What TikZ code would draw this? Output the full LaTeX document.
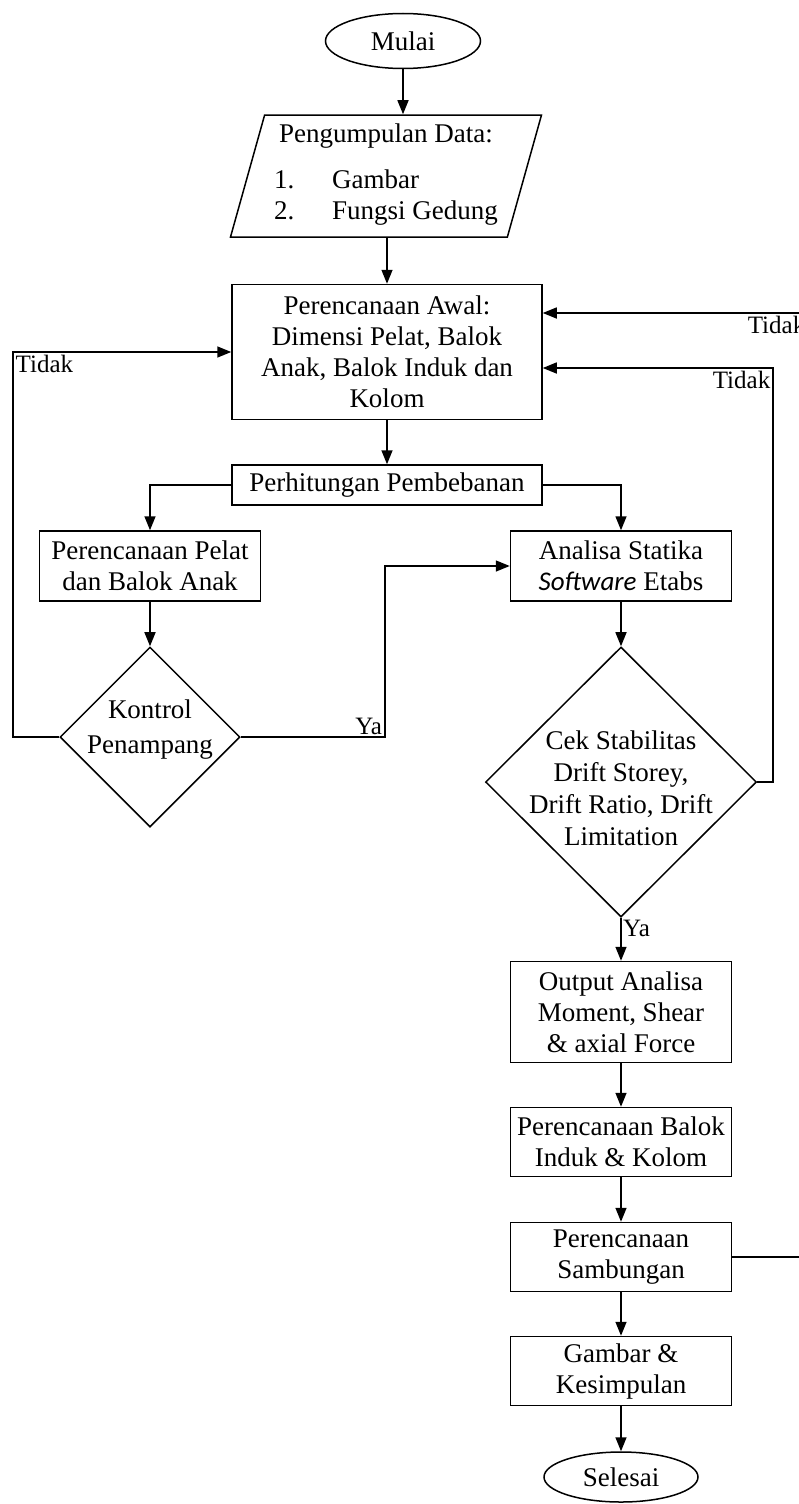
\documentclass[tikz,border=0pt]{standalone}
\usepackage{fontspec}
\setmainfont{Liberation Serif}
\setsansfont{Carlito}
\usetikzlibrary{shapes.geometric,arrows.meta}

\begin{document}
\begin{tikzpicture}
[x=1pt, y=-1pt, font=\fontsize{27}{31}\selectfont,
  nodedecorate/.style={shape=rectangle,draw,line width=1.5pt,align=center,
    inner sep=0pt,minimum width=221pt},%
  terminaldecorate/.style={shape=ellipse,draw,line width=1.5pt,inner sep=0pt,
    minimum width=155pt,minimum height=55pt},%
  iodecorate/.style={shape=trapezium,trapezium left angle=72,
    trapezium right angle=108,trapezium stretches body,draw,line width=1.5pt,
    align=center,inner sep=0pt,minimum width=311pt,minimum height=122pt},%
  decisiondecorate/.style={shape=diamond,draw,line width=1.5pt,inner sep=0pt},%
  linedecorate/.style={-{Triangle[length=14pt,width=11pt]},line width=1.5pt},%
  labeldecorate/.style={inner sep=2pt,font=\fontsize{25}{28}\selectfont}]
\useasboundingbox (0,0) rectangle (799,1504);
%% nodes or vertices
\node (mulai) at (403,41) [terminaldecorate] {Mulai};
\node (data) at (386,176) [iodecorate] {Pengumpulan Data:\\[15pt]
  \begin{tabular}[t]{@{}p{58pt}@{}l@{}}1.&Gambar\\2.&Fungsi Gedung\end{tabular}};
\node (awal) at (387,352) [nodedecorate,minimum width=310pt,minimum height=135pt]
  {Perencanaan Awal:\\Dimensi Pelat, Balok\\Anak, Balok Induk dan\\Kolom};
\node (hitung) at (387,485) [nodedecorate,minimum width=310pt,minimum height=40pt]
  {Perhitungan Pembebanan};
\node (pelat) at (150,566) [nodedecorate,minimum height=70pt]
  {Perencanaan Pelat\\dan Balok Anak};
\node (analisa) at (621,566) [nodedecorate,minimum height=70pt]
  {Analisa Statika\\{\sffamily\itshape Software} Etabs};
\node (kontrol) at (150,737) [decisiondecorate,minimum width=180pt,minimum height=180pt] {};
\node (kontroltext) at (150,730) [align=center,font=\fontsize{27}{35}\selectfont]
  {Kontrol\\Penampang};
\node (cek) at (621,782) [decisiondecorate,minimum width=271pt,minimum height=270pt] {};
\node (cektext) at (621,788) [align=center,font=\fontsize{27}{32}\selectfont]
  {Cek Stabilitas\\Drift Storey,\\Drift Ratio, Drift\\Limitation};
\node (output) at (621,1012) [nodedecorate,minimum height=101pt]
  {Output Analisa\\Moment, Shear\\\& axial Force};
\node (balok) at (621,1142) [nodedecorate,minimum height=69pt]
  {Perencanaan Balok\\Induk \& Kolom};
\node (samb) at (621,1257) [nodedecorate,minimum height=69pt]
  {Perencanaan\\Sambungan};
\node (gambar) at (621,1371) [nodedecorate,minimum height=69pt]
  {Gambar \&\\Kesimpulan};
\node (selesai) at (621,1477) [terminaldecorate,minimum width=154pt,minimum height=50pt]
  {Selesai};
\node (yacek) at (cek.south) [labeldecorate,anchor=north west] {Ya};
%% rails for the loops
\coordinate (leftrail) at (13,737);
\coordinate (rightrail) at (773,782);
\coordinate (outerrail) at (808,1257);
%% edges or lines
\draw[linedecorate] (mulai) -- (data.north -| mulai);
\draw[linedecorate] (data.south -| awal) -- (awal.north);
\path
\foreach \startnode/\endnode in {awal/hitung, pelat/kontrol, analisa/cek,
  cek/output, output/balok, balok/samb, samb/gambar, gambar/selesai}
{
  (\startnode) edge[linedecorate] (\endnode)
};
\draw[linedecorate] (hitung.west) -| (pelat.north);
\draw[linedecorate] (hitung.east) -| (analisa.north);
\draw[linedecorate] (kontrol.east) -- ++(144,0)
  node (yakontrol) [labeldecorate,anchor=south east] {Ya} |- (analisa.west);
\draw[linedecorate] (kontrol.west) -- (leftrail) -- (leftrail |- awal.west)
  node (tidakkontrol) [labeldecorate,anchor=north west] {Tidak} -- (awal.west);
\draw[linedecorate] (cek.east) -- (rightrail)
  -- ([yshift=-16pt]awal.east -| rightrail)
  node (tidakcek) [labeldecorate,anchor=north east] {Tidak}
  -- ([yshift=-16pt]awal.east);
\draw[linedecorate] (samb.east) -- (outerrail)
  -- ([yshift=39pt]awal.east -| outerrail)
  node (tidaksamb) [labeldecorate,anchor=north east] {Tidak}
  -- ([yshift=39pt]awal.east);
\end{tikzpicture}
\end{document}
